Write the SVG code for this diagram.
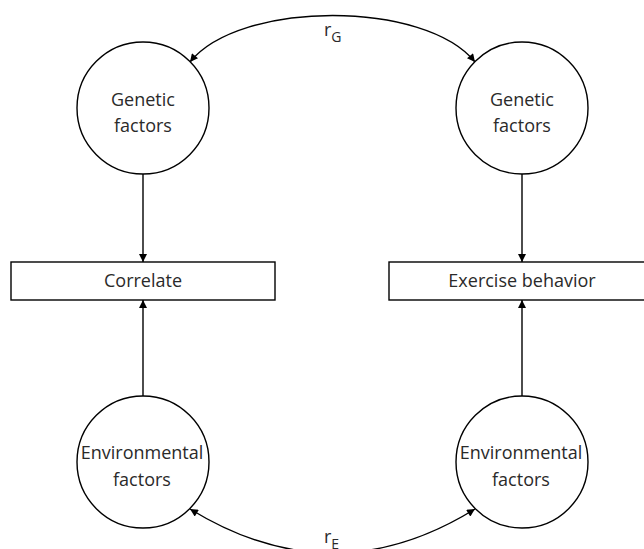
<svg xmlns="http://www.w3.org/2000/svg" width="644" height="549" viewBox="0 0 644 549">
<defs>
<marker id="ah" viewBox="0 0 10 10" refX="10" refY="5" markerWidth="9" markerHeight="8" markerUnits="userSpaceOnUse" orient="auto-start-reverse">
<path d="M0,0 L10,5 L0,10 z" fill="#000"/>
</marker>
</defs>
<style>
.n{fill:#fff;stroke:#000;stroke-width:1.4}
.t{font-family:"Open Sans","Liberation Sans",sans-serif;font-size:18px;fill:#2a2a2a;text-anchor:middle}
.l{font-family:"Open Sans","Liberation Sans",sans-serif;font-size:18px;fill:#2a2a2a}
.c{fill:none;stroke:#000;stroke-width:1.4}
</style>
<rect width="644" height="549" fill="#fff"/>
<g id="connectors">
<line class="c" x1="143" y1="174" x2="143" y2="262" marker-end="url(#ah)"/>
<line class="c" x1="522" y1="174" x2="522" y2="262" marker-end="url(#ah)"/>
<line class="c" x1="143" y1="396" x2="143" y2="300" marker-end="url(#ah)"/>
<line class="c" x1="522" y1="396" x2="522" y2="300" marker-end="url(#ah)"/>
<path class="c" d="M190,62 C240,0 425,0 475,62" marker-start="url(#ah)" marker-end="url(#ah)"/>
<path class="c" d="M190,509 Q333,597 475,509" marker-start="url(#ah)" marker-end="url(#ah)"/>
<text class="l" x="324" y="36">r<tspan font-size="14" dy="6">G</tspan></text>
<text class="l" x="324" y="543">r<tspan font-size="14" dy="6">E</tspan></text>
</g>
<g id="genetic-left"><circle class="n" cx="143" cy="108" r="66"/><text class="t" x="143" y="106">Genetic</text><text class="t" x="143" y="132">factors</text></g>
<g id="genetic-right"><circle class="n" cx="522" cy="108" r="66"/><text class="t" x="522" y="106">Genetic</text><text class="t" x="522" y="132">factors</text></g>
<g id="correlate"><rect class="n" x="11" y="262" width="264" height="38"/><text class="t" x="143" y="287">Correlate</text></g>
<g id="exercise"><rect class="n" x="389" y="262" width="266" height="38"/><text class="t" x="522" y="287">Exercise behavior</text></g>
<g id="env-left"><circle class="n" cx="143" cy="462" r="66"/><text class="t" x="142" y="459">Environmental</text><text class="t" x="142" y="486">factors</text></g>
<g id="env-right"><circle class="n" cx="522" cy="462" r="66"/><text class="t" x="521" y="459">Environmental</text><text class="t" x="521" y="486">factors</text></g>
</svg>
